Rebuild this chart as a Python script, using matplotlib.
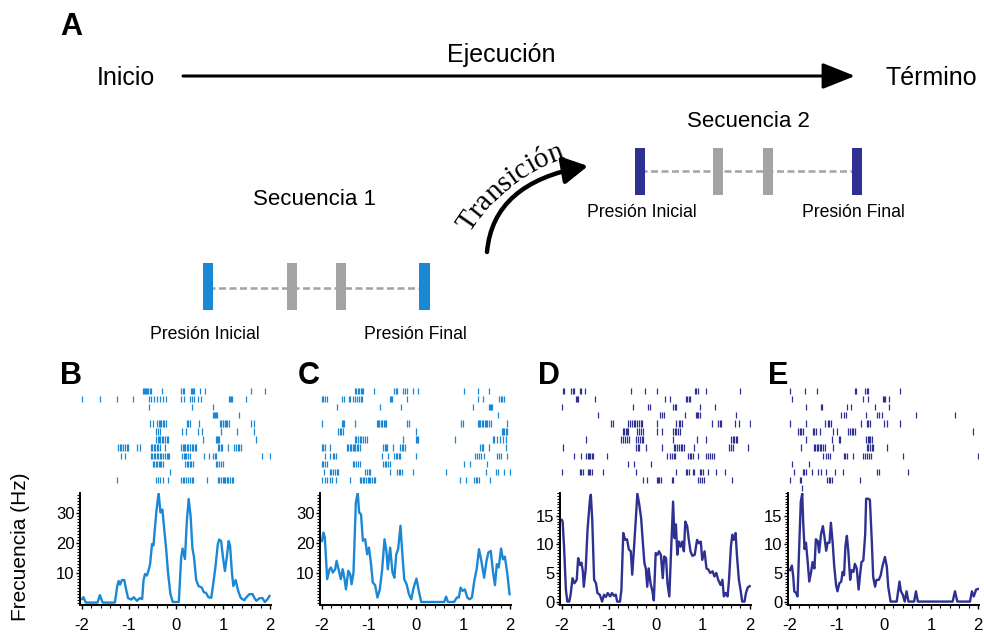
#!/usr/bin/env python
"""
sequence diagram (A) plus raster / PSTH panels (B-E)
"""

import numpy as np
import matplotlib
matplotlib.use('Agg')
import matplotlib.pyplot as plt
from matplotlib.patches import Rectangle, FancyArrowPatch
from matplotlib.ticker import MultipleLocator, FixedLocator
from matplotlib.font_manager import FontProperties, findfont, get_font

plt.rcParams['font.family'] = ['Liberation Sans', 'DejaVu Sans']
plt.rcParams['axes.unicode_minus'] = False

W, H = 984, 632
LIGHT = '#1b88d5'
DARK = '#2e3192'
GRAY = '#a3a3a3'

# ---- PSTH curves (time in s, rate in Hz)
time_b = [-2.00, -1.97, -1.92, -1.67, -1.62, -1.56, -1.30, -1.25, -1.22, -1.19, -1.15, -1.10, -1.07, -1.02,
          -0.95, -0.90, -0.83, -0.77, -0.72, -0.69, -0.66, -0.62, -0.57, -0.55, -0.51, -0.48, -0.42, -0.37,
          -0.33, -0.29, -0.26, -0.21, -0.17, -0.12, -0.07, 0.06, 0.11, 0.14, 0.19, 0.23, 0.27, 0.31, 0.35,
          0.38, 0.43, 0.48, 0.55, 0.59, 0.64, 0.69, 0.75, 0.79, 0.84, 0.89, 0.92, 0.96, 1.00, 1.04, 1.08,
          1.12, 1.15, 1.19, 1.22, 1.27, 1.32, 1.38, 1.45, 1.50, 1.56, 1.63, 1.67, 1.71, 1.78, 1.84, 1.89,
          1.94, 1.99]
rate_b = [1.2, 1.8, 0, 0, 2.5, 0, 0, 5.5, 7.2, 6.0, 7.5, 7.5, 5.0, 1.5,
          1.0, 1.8, 0.6, 1.5, 1.2, 7.5, 9.5, 9.0, 11.5, 13, 19.5, 19.0, 30, 36.5,
          30, 31, 26, 18, 10, 3, 0.2, 0.2, 15, 18, 14.5, 27, 34.5, 29, 18,
          15.5, 7.5, 5.5, 5, 3.5, 3.2, 1.8, 1.6, 6, 12, 19.5, 21, 20.5, 15, 10.5, 15,
          20.5, 19, 10, 5.5, 7.5, 4, 1.5, 0.8, 1.8, 2.8, 2.8, 1.5, 0.6, 1.5, 1.5, 0.2,
          1.0, 2.2]

time_c = [-2.00, -1.97, -1.94, -1.89, -1.84, -1.81, -1.77, -1.72, -1.69, -1.64, -1.60, -1.56, -1.52, -1.49,
          -1.44, -1.40, -1.37, -1.33, -1.28, -1.24, -1.21, -1.17, -1.13, -1.08, -1.04, -1.00, -0.96, -0.92,
          -0.87, -0.82, -0.77, -0.72, -0.67, -0.63, -0.60, -0.55, -0.50, -0.46, -0.42, -0.38, -0.33, -0.29,
          -0.25, -0.20, -0.15, -0.10, -0.05, 0.01, 0.06, 0.11, 0.60, 0.64, 0.68, 0.81, 0.87, 0.91, 0.95,
          0.99, 1.04, 1.09, 1.14, 1.19, 1.24, 1.29, 1.34, 1.39, 1.45, 1.50, 1.54, 1.59, 1.64, 1.68, 1.72,
          1.76, 1.81, 1.85, 1.89, 1.94, 1.99]
rate_c = [20.5, 23.3, 21.7, 7.8, 11.1, 11.7, 10.0, 11.1, 13.9, 10.6, 7.8, 11.1, 7.8, 4.4,
          10.6, 9.4, 6.1, 10.0, 33.3, 36.7, 30.0, 29.4, 20.6, 21.1, 16.1, 18.3, 13.3, 6.7,
          5.8, 1.7, 4.4, 11.1, 21.1, 17.2, 11.1, 18.3, 10.0, 8.3, 16.1, 17.8, 25.6, 16.1,
          7.8, 6.1, 2.8, 1.1, 5.0, 8.0, 3.9, 0.2, 0.2, 2.0, 0.2, 0.2, 1.7, 1.7, 5.0,
          3.9, 4.4, 1.7, 1.1, 1.7, 7.2, 11.1, 17.8, 13.9, 8.3, 13.9, 16.7, 17.2, 10.0, 5.8, 12.8,
          11.7, 18.0, 14.4, 15.3, 10.0, 2.8]

time_d = [-2.00, -1.98, -1.95, -1.91, -1.88, -1.84, -1.81, -1.77, -1.73, -1.68, -1.65, -1.61, -1.58, -1.55,
          -1.53, -1.49, -1.45, -1.40, -1.38, -1.35, -1.31, -1.27, -1.24, -1.19, -1.14, -1.10, -1.06, -1.02,
          -0.97, -0.93, -0.89, -0.85, -0.82, -0.76, -0.73, -0.69, -0.65, -0.61, -0.57, -0.53, -0.50, -0.46,
          -0.42, -0.39, -0.35, -0.31, -0.28, -0.24, -0.21, -0.18, -0.15, -0.11, -0.07, -0.04, 0.00, 0.04,
          0.07, 0.11, 0.15, 0.18, 0.22, 0.25, 0.29, 0.32, 0.37, 0.40, 0.43, 0.46, 0.49, 0.53, 0.56, 0.60,
          0.63, 0.67, 0.70, 0.74, 0.78, 0.83, 0.88, 0.92, 0.96, 0.99, 1.04, 1.08, 1.12, 1.16, 1.21, 1.25,
          1.29, 1.33, 1.38, 1.42, 1.45, 1.49, 1.53, 1.56, 1.60, 1.63, 1.66, 1.70, 1.73, 1.77, 1.81, 1.84,
          1.89, 1.92, 1.96, 2.00]
rate_d = [14.3, 14.0, 9.6, 2.0, 0.0, 0.0, 1.2, 4.1, 3.2, 3.8, 7.6, 6.4, 6.8, 5.3,
          2.6, 5.6, 12.6, 17.8, 18.7, 14.3, 3.8, 3.2, 1.5, 1.2, 0.0, 1.2, 0.8, 1.5,
          0.9, 1.5, 1.0, 1.2, 0.0, 0.0, 2.0, 12.0, 10.8, 10.9, 9.1, 8.8, 4.7, 9.6,
          14.9, 18.9, 17.0, 14.6, 11.1, 6.7, 5.8, 2.6, 5.8, 3.2, 1.8, 0.2, 8.5, 8.2,
          8.8, 8.2, 4.1, 7.9, 7.6, 3.2, 0.9, 7.3, 17.5, 11.1, 13.5, 8.2, 10.5, 9.6, 10.5, 8.8,
          14.0, 13.2, 11.1, 8.8, 8.0, 8.2, 10.8, 10.2, 10.5, 7.3, 8.8, 5.8, 5.6, 5.0, 5.3, 4.4,
          5.0, 3.8, 2.9, 3.8, 0.9, 1.5, 0.9, 3.8, 9.6, 11.7, 10.8, 12.0, 7.9, 3.8, 1.8, 0.0,
          0.0, 1.5, 2.5, 2.7]

time_e = [-2.00, -1.96, -1.93, -1.91, -1.87, -1.84, -1.80, -1.77, -1.74, -1.72, -1.69, -1.66, -1.62, -1.59,
          -1.55, -1.52, -1.48, -1.45, -1.41, -1.38, -1.34, -1.30, -1.27, -1.23, -1.20, -1.16, -1.13, -1.09,
          -1.06, -1.02, -0.99, -0.95, -0.91, -0.88, -0.85, -0.82, -0.79, -0.76, -0.72, -0.69, -0.65, -0.62,
          -0.58, -0.54, -0.51, -0.48, -0.44, -0.40, -0.38, -0.33, -0.30, -0.26, -0.23, -0.19, -0.16, -0.11,
          -0.07, -0.03, 0.02, 0.06, 0.09, 0.14, 0.27, 0.33, 0.36, 0.40, 0.44, 0.48, 0.52, 0.64, 0.68, 0.72,
          1.46, 1.51, 1.56, 1.83, 1.87, 1.91, 1.96, 2.00]
rate_e = [5.5, 6.3, 4.3, 1.8, 1.5, 0.9, 10.6, 17.5, 18.9, 14.0, 9.2, 10.3, 6.6, 3.5,
          5.2, 6.9, 5.8, 10.9, 10.6, 8.6, 11.8, 13.2, 11.5, 8.9, 10.3, 10.3, 13.8, 10.1,
          6.3, 2.9, 1.8, 3.2, 3.5, 5.2, 4.6, 9.8, 11.5, 8.9, 3.8, 5.5, 5.2, 6.6,
          5.8, 2.1, 4.6, 6.9, 7.2, 11.8, 18.0, 18.0, 17.8, 10.6, 4.3, 2.6, 3.8, 3.8,
          4.6, 6.3, 7.8, 6.1, 2.6, 0.0, 0.0, 3.5, 1.8, 1.2, 0.0, 1.8, 0.0, 0.0, 1.8, 0.0,
          0.0, 1.8, 0.0, 0.0, 1.8, 0.9, 2.1, 2.2]

# ---- spike rasters, one list per trial
spikes_b = [
    [-0.70, -0.68, -0.66, -0.64, -0.62, -0.59, -0.56, -0.54, -0.29, 0.11, 0.14, 0.16, 0.31, 0.33, 0.36, 0.39, 0.51, 0.62, 1.59, 1.89],
    [-1.99, -1.62, -1.25, -0.91, -0.58, -0.53, -0.46, -0.41, -0.35, -0.28, -0.21, 0.11, 0.18, 0.29, 0.33, 0.39, 0.46, 0.53, 1.13, 1.15, 1.17, 1.19, 1.50],
    [-0.58, 0.34, 0.78],
    [0.79, 0.81, 0.83, 0.85, 0.87, 1.34],
    [-0.56, -0.49, -0.40, -0.37, -0.34, -0.31, -0.28, -0.25, -0.22, 0.24, 0.26, 0.29, 0.48, 0.94, 0.96, 0.99, 1.01, 1.04, 1.06, 1.09, 1.13, 1.59, 1.65],
    [-0.42, -0.38, -0.35, 0.13, 0.21, 0.46, 0.55, 0.96, 1.29, 1.65],
    [-0.42, -0.39, -0.36, -0.33, -0.30, -0.27, -0.24, -0.20, -0.17, 0.58, 0.85, 0.87, 0.89, 0.92, 1.71],
    [-1.23, -1.19, -1.16, -1.12, -1.09, -1.05, -1.02, -0.84, -0.76, -0.53, -0.50, -0.47, -0.44, -0.41, -0.38, -0.35, -0.24,
     0.11, 0.14, 0.17, 0.20, 0.23, 0.26, 0.29, 0.33, 0.36, 0.40, 0.43, 0.89, 0.92, 0.96, 0.98, 1.10, 1.24, 1.28, 1.31, 1.34, 1.38],
    [-1.16, -1.09, -0.53, -0.50, -0.47, -0.44, -0.41, -0.38, -0.35, -0.31, -0.27, -0.24, -0.20, -0.17, -0.14,
     0.13, 0.16, 0.19, 0.22, 0.25, 0.29, 0.60, 0.71, 0.79, 0.82, 0.86, 1.82, 1.99],
    [-0.49, -0.46, -0.43, -0.40, -0.37, -0.34, -0.31, -0.28, 0.20, 0.23, 0.26, 0.29, 0.32, 0.36, 0.85, 0.88, 0.92, 0.95, 0.99],
    [-0.12],
    [-1.25, -0.42, -0.39, -0.35, -0.28, -0.17, 0.11, 0.14, 0.18, 0.21, 0.25, 0.29, 0.33, 0.36, 0.67,
     0.89, 0.92, 0.95, 0.99, 1.02, 1.05, 1.08, 1.11, 1.15, 1.19, 1.22],
]
spikes_c = [
    [-1.30, -1.27, -1.24, -1.21, -1.18, -1.15, -1.12, -0.89, -0.47, -0.43, -0.40, -0.27, -0.23, -0.19, -0.06, 0.04, 1.02, 1.32, 1.56],
    [-2.00, -1.97, -1.93, -1.90, -1.58, -1.53, -1.43, -1.40, -1.33, -1.29, -1.26, -1.22, -1.18, -1.15, -0.56, -0.53, -0.51, -0.19,
     1.32, 1.42, 1.77, 1.80, 1.84, 1.87],
    [-1.69, -0.76, -0.32, 1.22, 1.55, 1.57, 1.59, 1.61],
    [1.74],
    [-2.00, -1.58, -1.56, -1.54, -1.30, -0.84, -0.81, -0.78, -0.75, -0.72, -0.69, -0.66, -0.63, -0.19, -0.15, 0.95, 1.01,
     1.31, 1.34, 1.37, 1.40, 1.43, 1.46, 1.49, 1.52, 1.55, 1.59, 1.94],
    [-1.65, -1.62, -1.59, -1.56, 0.01, 1.82, 1.85, 1.88, 1.91, 1.94],
    [-1.30, -1.27, -1.24, -1.20, -1.17, -1.13, -1.09, -1.05, -0.27, -0.01, 0.02, 0.05, 0.84, 1.63, 1.67, 1.73, 1.79, 1.85, 1.92],
    [-2.00, -1.97, -1.94, -1.84, -1.47, -1.44, -1.41, -1.38, -1.35, -1.32, -1.29, -1.26, -1.23, -1.19, -0.70, -0.67, -0.64, -0.61,
     -0.49, -0.34, -0.30, -0.27, -0.24, 1.37, 1.40, 1.43, 1.56, 1.91],
    [-1.94, -1.84, -1.77, -1.74, -1.70, -0.72, -0.60, -0.46, -0.43, -0.40, -0.37, -0.33, -0.01, 1.25, 1.29, 1.34, 1.39, 1.44,
     1.72, 1.76, 1.81, 1.94],
    [-2.00, -1.97, -1.94, -1.90, -1.34, -1.31, -1.27, -1.24, -1.20, -0.70, -0.66, -0.63, -0.59, -0.55, 1.02, 1.15, 1.52],
    [-1.96, -1.84, -1.80, -1.76, -1.72, -1.69, -1.65, -1.08, -1.04, -1.01, -0.97, -0.56, -0.40, -0.37, -0.34, -0.30, -0.06,
     0.63, 1.49, 1.70, 1.75, 1.88, 2.00],
    [-1.99, -1.94, -1.89, -1.84, -1.79, -1.70, -1.40, -1.19, -1.16, -1.13, -1.10, -1.06, -1.03, -1.00, -0.97, -0.93, -0.90, -0.87,
     0.94, 1.06, 1.24, 1.27, 1.30, 1.34, 1.58],
]
spikes_d = [
    [-1.98, -1.96, -1.80, -1.77, -1.74, -1.61, -1.58, -1.51, -0.53, -0.23, 0.02, 0.83, 0.86, 0.89, 1.06, 1.79],
    [-1.70, -1.68, -1.65, -1.29, 0.19, 0.30, 0.64, 0.67, 0.70, 0.73],
    [-2.00, -0.48, -0.16, -0.13, 0.36, 0.40, 0.44, 0.95, 1.26],
    [-1.22, 0.10, 0.14, 0.18, 0.62, 0.85, 0.88, 0.91, 0.94, 1.70],
    [-0.96, -0.90, -0.59, -0.55, -0.51, -0.47, -0.44, -0.40, -0.36, -0.32, -0.30, 0.02, 0.43, 0.50, 0.52, 0.55,
     1.19, 1.33, 1.36, 1.39, 1.68, 1.77, 2.00],
    [-0.70, -0.67, -0.64, -0.61, -0.58, -0.39, -0.35, -0.31, -0.27, 0.03, 0.14, 0.36, 0.40, 0.44, 0.48, 0.51],
    [-1.48, -0.73, -0.69, -0.65, -0.61, -0.56, -0.41, -0.37, -0.34, -0.30, -0.26, 0.36, 0.88, 1.06, 1.61, 1.64, 1.67, 1.70, 1.73],
    [-1.97, -0.41, -0.38, -0.35, -0.20, 0.14, 0.39, 0.42, 0.46, 0.49, 0.53, 0.56, 0.60, 0.81, 1.56, 1.60, 1.65, 1.96],
    [-1.74, -1.58, -1.48, -1.45, -1.42, -1.39, -1.35, -1.33, -1.03, 0.23, 0.31, 0.35, 0.38, 0.42, 0.69, 0.72, 0.76, 0.80,
     0.90, 1.08, 1.12, 1.16, 1.20, 1.25],
    [-0.58, -0.46, -0.11],
    [-2.00, -1.61, -1.58, -1.54, -1.43, -1.41, -1.39, -1.36, -1.12, -0.42, 0.44, 0.64, 0.67, 0.70, 0.80, 0.81,
     0.94, 0.97, 1.01, 1.11, 1.29, 1.47],
    [-0.28, -0.18, 0.02, 0.05, 0.08, 0.11, 0.34, 0.37, 0.90, 0.94, 0.98, 1.02, 1.63],
]
spikes_e = [
    [-1.99, -1.68, -1.43, -0.62, -0.59, -0.40, -0.37, -0.34, 0.33],
    [-1.96, -0.45, -0.35, -0.03, 0.00, 0.03, 0.11],
    [-1.65, -1.33, -1.31, -0.79, -0.70, -0.19, 0.11],
    [-0.92, -0.85, -0.80, -0.38, -0.15, -0.10, -0.05, 0.69, 1.51],
    [-1.99, -1.66, -1.26, -1.19, -1.16, -1.13, -0.50, -0.36, -0.33, -0.30, 0.00, 0.07, 0.33],
    [-1.82, -1.79, -1.76, -1.73, -1.52, -1.48, -1.44, -1.36, -1.09, -0.99, -0.76, -0.72, -0.69, -0.65, -0.62, 1.90],
    [-1.65, -1.11, -0.95, -0.93, -0.38, -0.35, -0.32, -0.29, -0.26],
    [-1.77, -1.50, -1.47, -1.43, -1.40, -1.36, -1.33, -1.29, -1.26, -1.09, -0.36, -0.33, -0.30, -0.26, -0.23, 0.07],
    [-1.30, -1.23, -1.19, -1.15, -0.85, -0.82, -0.78, -0.65, -0.44, -0.40, -0.36, -0.32, -0.28, 0.40, 1.99],
    [-1.96, -1.59],
    [-1.91, -1.72, -1.70, -1.66, -1.54, -1.40, -1.35, -1.23, -1.04, -0.87, -0.14, -0.11, 0.50],
    [-2.00, -1.79, -1.76, -1.22, -1.18, -1.14, -1.10, -0.51],
    [-1.75],
]

xticks = [-2, -1, 0, 1, 2]
yticks_bc = [10, 20, 30]
yticks_de = [0, 5, 10, 15]


def px_rect(left, top, right, bottom):
    return [left / W, 1 - bottom / H, (right - left) / W, (bottom - top) / H]


def draw_sequence(ax, xs, colors, top, height, line_y):
    ax.plot([xs[0], xs[-1]], [line_y, line_y], color=GRAY, lw=1.8,
            linestyle=(0, (2.8, 1.4)), zorder=1)
    for x, c in zip(xs, colors):
        ax.add_patch(Rectangle((x - 5.25, top), 10.5, height, color=c, lw=0, zorder=2))


def curved_text(ax, word, cx, cy, r, mid_deg, fp):
    font = get_font(findfont(fp))
    font.set_size(fp.get_size_in_points(), 100)
    adv = [font.load_char(ord(c)).linearHoriAdvance / 65536 for c in word]
    start = np.radians(mid_deg) + sum(adv) / 2 / r
    s = 0
    for c, a in zip(word, adv):
        ang = start - (s + a / 2) / r
        ax.text(cx + r * np.cos(ang), cy - r * np.sin(ang), c, fontproperties=fp,
                rotation=np.degrees(ang) - 90, rotation_mode='anchor',
                ha='center', va='baseline')
        s += a


def draw_panel(fig, x0, spikes, t, rate, color, ylim, yticks, yminor):
    ppu = 47.0
    left, right = x0 - 0.04 * ppu, x0 + 4.02 * ppu

    axr = fig.add_axes(px_rect(left, 386.9, right, 492.2))
    axr.eventplot(spikes, lineoffsets=list(range(len(spikes))), linelengths=0.8,
                  linewidths=0.9, colors=color)
    axr.set_xlim(-2.04, 2.02)
    axr.set_ylim(12.5, -0.5)
    axr.axis('off')

    ax = fig.add_axes(px_rect(left, 493, right, 605))
    ax.plot(t, rate, color=color, lw=1.7, solid_joinstyle='round')
    ax.set_xlim(-2.04, 2.02)
    ax.set_ylim(*ylim)
    ax.xaxis.set_major_locator(FixedLocator(xticks))
    ax.yaxis.set_major_locator(FixedLocator(yticks))
    ax.xaxis.set_minor_locator(MultipleLocator(0.2))
    ax.yaxis.set_minor_locator(MultipleLocator(yminor))
    for sp in ['top', 'right']:
        ax.spines[sp].set_visible(False)
    for sp in ['left', 'bottom']:
        ax.spines[sp].set_linewidth(1.4)
    ax.tick_params(which='major', direction='out', length=3, width=1, labelsize=12)
    ax.tick_params(which='minor', direction='out', length=2, width=0.8)
    ax.tick_params(axis='x', which='major', pad=6.5)
    ax.tick_params(axis='y', which='major', pad=1)
    ax.patch.set_alpha(0)
    return ax


def run_main():
    fig = plt.figure(figsize=(W / 100, H / 100), dpi=100)
    ax0 = fig.add_axes([0, 0, 1, 1])
    ax0.set_xlim(0, W)
    ax0.set_ylim(H, 0)
    ax0.axis('off')

    # panel A: execution timeline
    ax0.text(60, 35, 'A', fontsize=22, fontweight='bold', va='baseline')
    ax0.text(97, 85, 'Inicio', fontsize=18, va='baseline')
    ax0.text(447, 62, 'Ejecución', fontsize=18, va='baseline')
    ax0.text(885, 85, 'Término', fontsize=18, va='baseline')
    ax0.annotate('', xy=(855, 76), xytext=(183, 76),
                 arrowprops=dict(arrowstyle='-|>,head_length=1.0,head_width=0.4',
                                 mutation_scale=20, lw=2.2, color='k',
                                 shrinkA=0, shrinkB=0))

    ax0.text(253, 205, 'Secuencia 1', fontsize=16, va='baseline')
    draw_sequence(ax0, [208, 292, 341, 424.5], [LIGHT, GRAY, GRAY, LIGHT], 263, 47, 288)
    ax0.text(150, 339, 'Presión Inicial', fontsize=12.7, va='baseline')
    ax0.text(364, 339, 'Presión Final', fontsize=12.7, va='baseline')

    ax0.text(687, 127, 'Secuencia 2', fontsize=16, va='baseline')
    draw_sequence(ax0, [640, 718, 768, 857], [DARK, GRAY, GRAY, DARK], 148, 47, 171)
    ax0.text(587, 217, 'Presión Inicial', fontsize=12.7, va='baseline')
    ax0.text(802, 217, 'Presión Final', fontsize=12.7, va='baseline')

    arc = FancyArrowPatch((487, 252), (588, 166),
                          connectionstyle='angle3,angleA=85,angleB=10',
                          arrowstyle='-|>,head_length=1.0,head_width=0.55',
                          mutation_scale=15, lw=3.2, color='k',
                          shrinkA=0, shrinkB=0)
    ax0.add_patch(arc)
    curved_text(ax0, 'Transición', 622.5, 328, 180, 128.5,
                FontProperties(family='Liberation Serif', size=21))

    # panels B-E
    panels = [
        ('B', 60, 82.0, spikes_b, time_b, rate_b, LIGHT, (-0.8, 36.5), yticks_bc, 1),
        ('C', 298, 322.0, spikes_c, time_c, rate_c, LIGHT, (-0.8, 36.5), yticks_bc, 1),
        ('D', 538, 561.7, spikes_d, time_d, rate_d, DARK, (-0.6, 19.0), yticks_de, 0.5),
        ('E', 768, 790.0, spikes_e, time_e, rate_e, DARK, (-0.6, 19.0), yticks_de, 0.5),
    ]
    for letter, lx, x0, spk, t, r, col, yl, yt, ym in panels:
        ax0.text(lx, 384, letter, fontsize=22, fontweight='bold', va='baseline')
        draw_panel(fig, x0, spk, t, r, col, yl, yt, ym)

    ax0.text(21, 547, 'Frecuencia (Hz)', fontsize=15, rotation=90, ha='center', va='center')

    fig.savefig('out.png', dpi=100)


if __name__ == '__main__':
    run_main()
